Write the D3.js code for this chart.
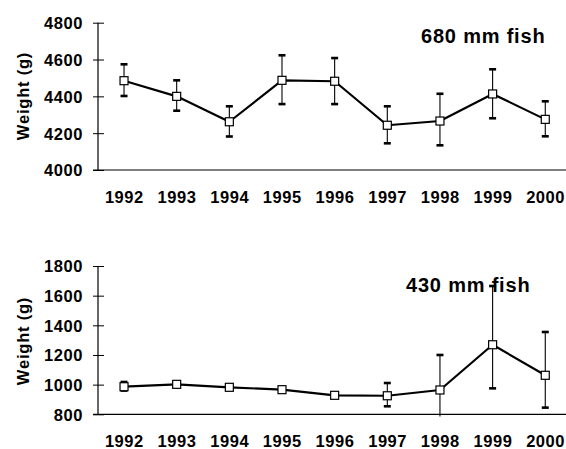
<!DOCTYPE html>
<html>
<head>
<meta charset="utf-8">
<script src="https://cdn.jsdelivr.net/npm/d3@7"></script>
<style>
  html, body { margin: 0; padding: 0; background: #fff; }
  svg text { font-family: "Liberation Sans", Arial, sans-serif; font-weight: bold; fill: #000; }
  .lbl { font-size: 16.5px; letter-spacing: 0.55px; }
  .ttl { font-size: 20px; letter-spacing: 0.8px; }
</style>
</head>
<body>
<svg id="chart" width="566" height="449"></svg>
<script>
// ---- data ----
const years = ["1992","1993","1994","1995","1996","1997","1998","1999","2000"];

const fish680Title = "680 mm fish";
const fish680Mean = [4485, 4400, 4262, 4487, 4482, 4243, 4266, 4413, 4275];
const fish680Low  = [4402, 4322, 4182, 4358, 4358, 4145, 4134, 4281, 4183];
const fish680High = [4574, 4487, 4346, 4623, 4608, 4346, 4414, 4547, 4373];
const fish680Ticks = [4000, 4200, 4400, 4600, 4800];

const fish430Title = "430 mm fish";
const fish430Mean = [986, 1002, 982, 966, 928, 925, 964, 1269, 1063];
const fish430Low  = [960, 995, 975, 950, 912, 854, 785, 975, 845];
const fish430High = [1018, 1010, 990, 982, 944, 1011, 1200, 1665, 1355];
const fish430Ticks = [800, 1000, 1200, 1400, 1600, 1800];

const yLabel = "Weight (g)";

// ---- drawing ----
const svg = d3.select("#chart");
svg.append("rect").attr("width", 566).attr("height", 449).attr("fill", "#fff");

const axisX = 98;
const x = d3.scaleBand().domain(years).range([97.7, 571.6]).padding(0);
const cx = d => x(d) + x.bandwidth() / 2;

function panel(cfg) {
  const y = d3.scaleLinear().domain([cfg.ticks[0], cfg.ticks[cfg.ticks.length - 1]])
    .range([cfg.yBottom, cfg.yTop]);
  const g = svg.append("g");

  // y axis
  const ax = g.append("g").attr("transform", `translate(${axisX},0)`)
    .call(d3.axisLeft(y).tickValues(cfg.ticks).tickSizeInner(5).tickSizeOuter(0).tickPadding(15)
      .tickFormat(d3.format("d")));
  ax.attr("font-size", null).attr("font-family", null);
  ax.select(".domain").remove();
  ax.selectAll(".tick line").attr("x1", 6).attr("x2", -5).attr("stroke", "#000").attr("stroke-width", 1);
  ax.selectAll(".tick text").attr("class", "lbl").attr("dy", "0.36em").attr("x", -15);
  g.append("line").attr("x1", axisX).attr("x2", axisX)
    .attr("y1", y.range()[1]).attr("y2", y.range()[0]).attr("stroke", "#000").attr("stroke-width", 1.2);

  // x axis
  const bx = g.append("g").attr("transform", `translate(0,${cfg.yBottom})`)
    .call(d3.axisBottom(x).tickSize(0).tickPadding(0));
  bx.attr("font-size", null).attr("font-family", null);
  bx.select(".domain").remove();
  bx.selectAll(".tick text").attr("class", "lbl").attr("y", 33.2).attr("dy", 0).attr("dx", "0.3px");
  g.append("line").attr("x1", 93).attr("x2", 566)
    .attr("y1", cfg.yBottom).attr("y2", cfg.yBottom).attr("stroke", "#000").attr("stroke-width", 1.2);

  // y label
  g.append("text").attr("class", "lbl").attr("transform", `translate(28.5,${cfg.labelY}) rotate(-90)`)
    .attr("text-anchor", "middle").style("letter-spacing", "0.8px")
    .text(yLabel);

  // error bars
  const eb = g.append("g");
  years.forEach((yr, i) => {
    const px = cx(yr);
    eb.append("line").attr("x1", px).attr("x2", px)
      .attr("y1", y(cfg.low[i])).attr("y2", y(cfg.high[i]))
      .attr("stroke", "#000").attr("stroke-width", 1.1);
    [cfg.low[i], cfg.high[i]].forEach(v => {
      if (v < cfg.ticks[0]) return;
      eb.append("line").attr("x1", px - 3.5).attr("x2", px + 3.5)
        .attr("y1", y(v)).attr("y2", y(v))
        .attr("stroke", "#000").attr("stroke-width", 2.6);
    });
  });

  // line
  const pts = years.map((yr, i) => [cx(yr), y(cfg.mean[i])]);
  g.append("path").attr("d", d3.line()(pts)).attr("fill", "none")
    .attr("stroke", "#000").attr("stroke-width", 2.2).attr("stroke-linejoin", "round");

  // markers
  g.selectAll(null).data(pts).enter().append("rect")
    .attr("x", d => d[0] - 4).attr("y", d => d[1] - 4)
    .attr("width", 8).attr("height", 8)
    .attr("fill", "#fff").attr("stroke", "#000").attr("stroke-width", 1.2);

  // title
  g.append("text").attr("class", "ttl").attr("x", cfg.titleX).attr("y", cfg.titleY).text(cfg.title);
}

panel({ ticks: fish680Ticks, mean: fish680Mean, low: fish680Low, high: fish680High,
  yBottom: 170, yTop: 22.7, labelY: 96, title: fish680Title, titleX: 421, titleY: 42.7 });
panel({ ticks: fish430Ticks, mean: fish430Mean, low: fish430Low, high: fish430High,
  yBottom: 414.3, yTop: 266, labelY: 341, title: fish430Title, titleX: 406, titleY: 292.3 });
</script>
</body>
</html>
